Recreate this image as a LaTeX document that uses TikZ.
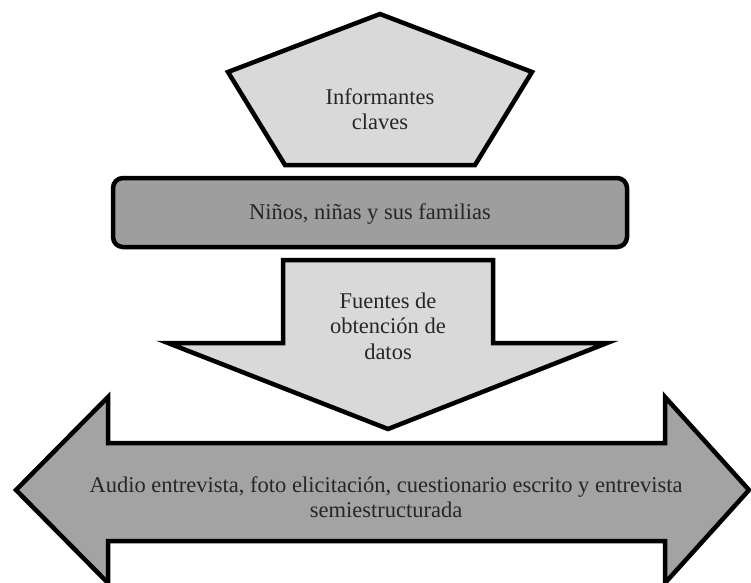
\documentclass[tikz,border=0pt]{standalone}
\usepackage{fontspec}
\setmainfont{Liberation Serif}
\definecolor{lightfill}{HTML}{D9D9D9}
\definecolor{midfill}{HTML}{9E9E9E}
\definecolor{arrowfill}{HTML}{A3A3A3}
\definecolor{txt}{HTML}{262626}
\tikzset{
  shapeline/.style={draw=black, line width=4.5pt, line join=miter, miter limit=10},
  lbl/.style={text=txt, align=center, inner sep=0pt, font=\fontsize{22.5}{25.5}\selectfont}
}
\begin{document}
\begin{tikzpicture}[x=1pt,y=-1pt]
\useasboundingbox (0,0) rectangle (751,582);
\clip (0,0) rectangle (751,582);
% pentagon
\draw[shapeline, fill=lightfill] (380,14) -- (532,72) -- (475,165) -- (285,165) -- (228,72) -- cycle;
\node[lbl] (inf) at (380,109) {Informantes\\claves};
% rounded rectangle
\draw[shapeline, fill=midfill, rounded corners=10pt] (113,178) rectangle (627,247);
\node[lbl] (nin) at (370,214) {Niños, niñas y sus familias};
% down arrow
\draw[shapeline, fill=lightfill] (283,260) -- (493,260) -- (493,343) -- (607,343) -- (388,429) -- (168,343) -- (283,343) -- cycle;
\node[lbl] (fue) at (388,326) {Fuentes de\\obtención de\\datos};
% double arrow
\draw[shapeline, fill=arrowfill] (16,490) -- (108,397) -- (108,443) -- (665,443) -- (665,397) -- (749,490) -- (665,583) -- (665,541) -- (108,541) -- (108,583) -- cycle;
\node[lbl] (aud) at (386,497) {Audio entrevista, foto elicitación, cuestionario escrito y entrevista\\semiestructurada};
\end{tikzpicture}
\end{document}
